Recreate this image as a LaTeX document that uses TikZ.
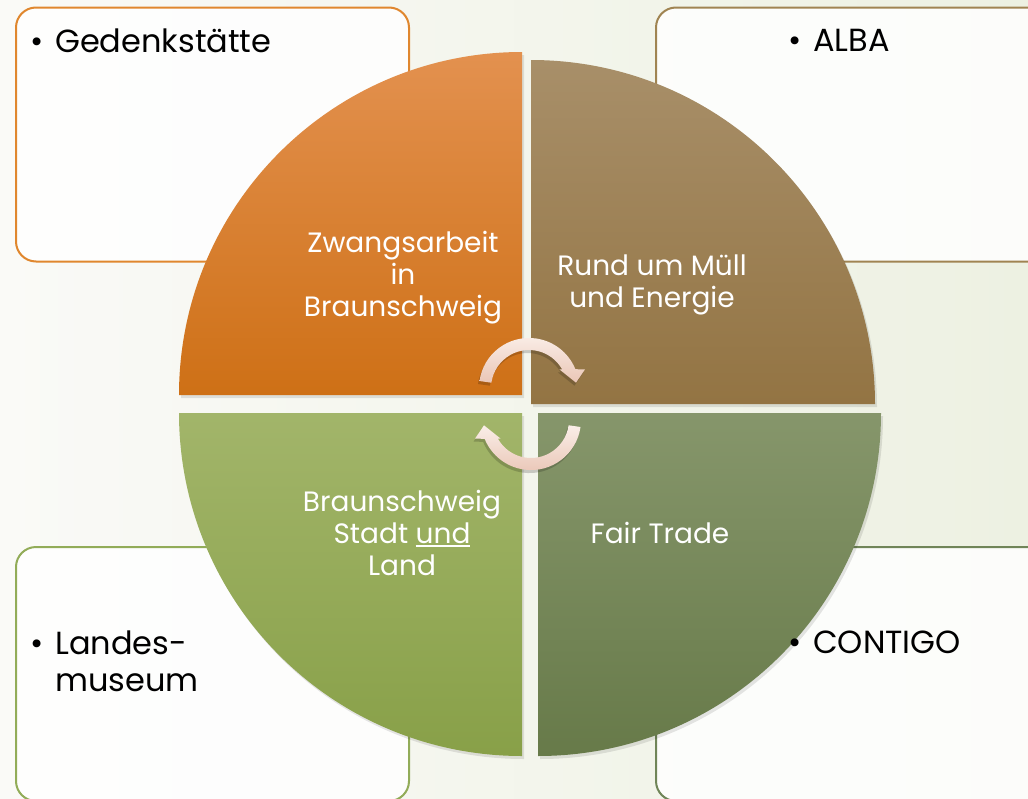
\documentclass[tikz,border=0pt]{standalone}
\usepackage{fontspec}
\setmainfont{Poppins}
\definecolor{bgl}{HTML}{FAFAF7}
\definecolor{bgr}{HTML}{EDF1E2}
\definecolor{orT}{HTML}{E3914F}
\definecolor{orB}{HTML}{CE7016}
\definecolor{brT}{HTML}{A88F69}
\definecolor{brB}{HTML}{937443}
\definecolor{lgT}{HTML}{A2B56A}
\definecolor{lgB}{HTML}{88A048}
\definecolor{dgT}{HTML}{86966B}
\definecolor{dgB}{HTML}{677A49}
\definecolor{bdOr}{HTML}{E0872E}
\definecolor{bdBr}{HTML}{A08452}
\definecolor{bdLg}{HTML}{92AC58}
\definecolor{bdDg}{HTML}{708558}
\definecolor{arT}{HTML}{FAEEE8}
\definecolor{arB}{HTML}{EAC6B6}
\newcommand\myuline[1]{{\setbox0\hbox{#1}\rlap{\rule[-3.5pt]{\wd0}{1.2pt}}\box0}}
\begin{document}
\begin{tikzpicture}[x=1pt,y=-1pt,
  infobox/.style={rounded corners=20pt, line width=2pt, fill=white, fill opacity=0.85},
  bul/.style={inner sep=0pt, anchor=base west, font=\fontsize{32}{37}\selectfont, text=black, align=left},
  lab/.style={inner sep=0pt, anchor=base, font=\fontsize{28}{32}\selectfont, text=white, align=center},
  qshadow/.style={fill=black, opacity=0.10},
  ashadow/.style={fill=black, opacity=0.18}
]
\useasboundingbox (0,0) rectangle (1028,798);
\clip (0,0) rectangle (1028,798);
\shade[left color=bgl, right color=bgr] (0,0) rectangle (1028,798);
% info boxes
\draw[infobox, draw=bdOr] (16,7.5) rectangle (409,261.5);
\draw[infobox, draw=bdBr] (656,7.5) rectangle (1049,261.5);
\draw[infobox, draw=bdLg] (16,547) rectangle (409,801);
\draw[infobox, draw=bdDg] (656,547) rectangle (1049,801);
% quarter paths
\def\qTL{(522,395) -- (179,395) arc[start angle=180,end angle=270,radius=343] -- cycle}
\def\qTR{(531,404) -- (531,60) arc[start angle=270,end angle=360,radius=344] -- cycle}
\def\qBL{(522,413) -- (522,756) arc[start angle=90,end angle=180,radius=343] -- cycle}
\def\qBR{(538,413) -- (881,413) arc[start angle=0,end angle=90,radius=343] -- cycle}
\begin{scope}[shift={(2,3)}]
\fill[qshadow] \qTL; \fill[qshadow] \qTR; \fill[qshadow] \qBL; \fill[qshadow] \qBR;
\end{scope}
\shade[top color=orT, bottom color=orB] \qTL;
\shade[top color=brT, bottom color=brB] \qTR;
\shade[top color=lgT, bottom color=lgB] \qBL;
\shade[top color=dgT, bottom color=dgB] \qBR;
% cycle arrows
\def\aTop{(479.5,381) arc[start angle=188,end angle=338,radius=50] -- (585,369.3) -- (576,382.7) -- (559.3,369.3) -- (562.1,369.3) arc[start angle=330.5,end angle=188,radius=38] -- cycle}
\def\aBot{(580.5,427) arc[start angle=8,end angle=158,radius=50] -- (475,438.7) -- (484,425.3) -- (500.7,438.7) -- (497.9,438.7) arc[start angle=150.5,end angle=8,radius=38] -- cycle}
\begin{scope}[shift={(-1.5,3)}]
\fill[ashadow] \aTop; \fill[ashadow] \aBot;
\end{scope}
\shade[top color=arT, bottom color=arB] \aTop;
\shade[top color=arT, bottom color=arB] \aBot;
% labels (base anchor = baseline of last line)
\node[lab] (q1) at (403,316) {Zwangsarbeit\\in\\Braunschweig};
\node[lab] (q2) at (652,307) {Rund um Müll\\und Energie};
\node[lab] (q3) at (402,575) {Braunschweig\\Stadt \myuline{und}\\Land};
\node[lab] (q4) at (660,543) {Fair Trade};
% bullet texts
\node[bul] (t1) at (30,52) {\makebox[25pt][l]{•}Gedenkstätte};
\node[bul] (t2) at (788,51) {\makebox[25pt][l]{•}ALBA};
\node[bul] (t3) at (30,691) {\makebox[25pt][l]{•}Landes-\\\hspace*{25pt}museum};
\node[bul] (t4) at (788,653) {\makebox[25pt][l]{•}CONTIGO};
\end{tikzpicture}
\end{document}
